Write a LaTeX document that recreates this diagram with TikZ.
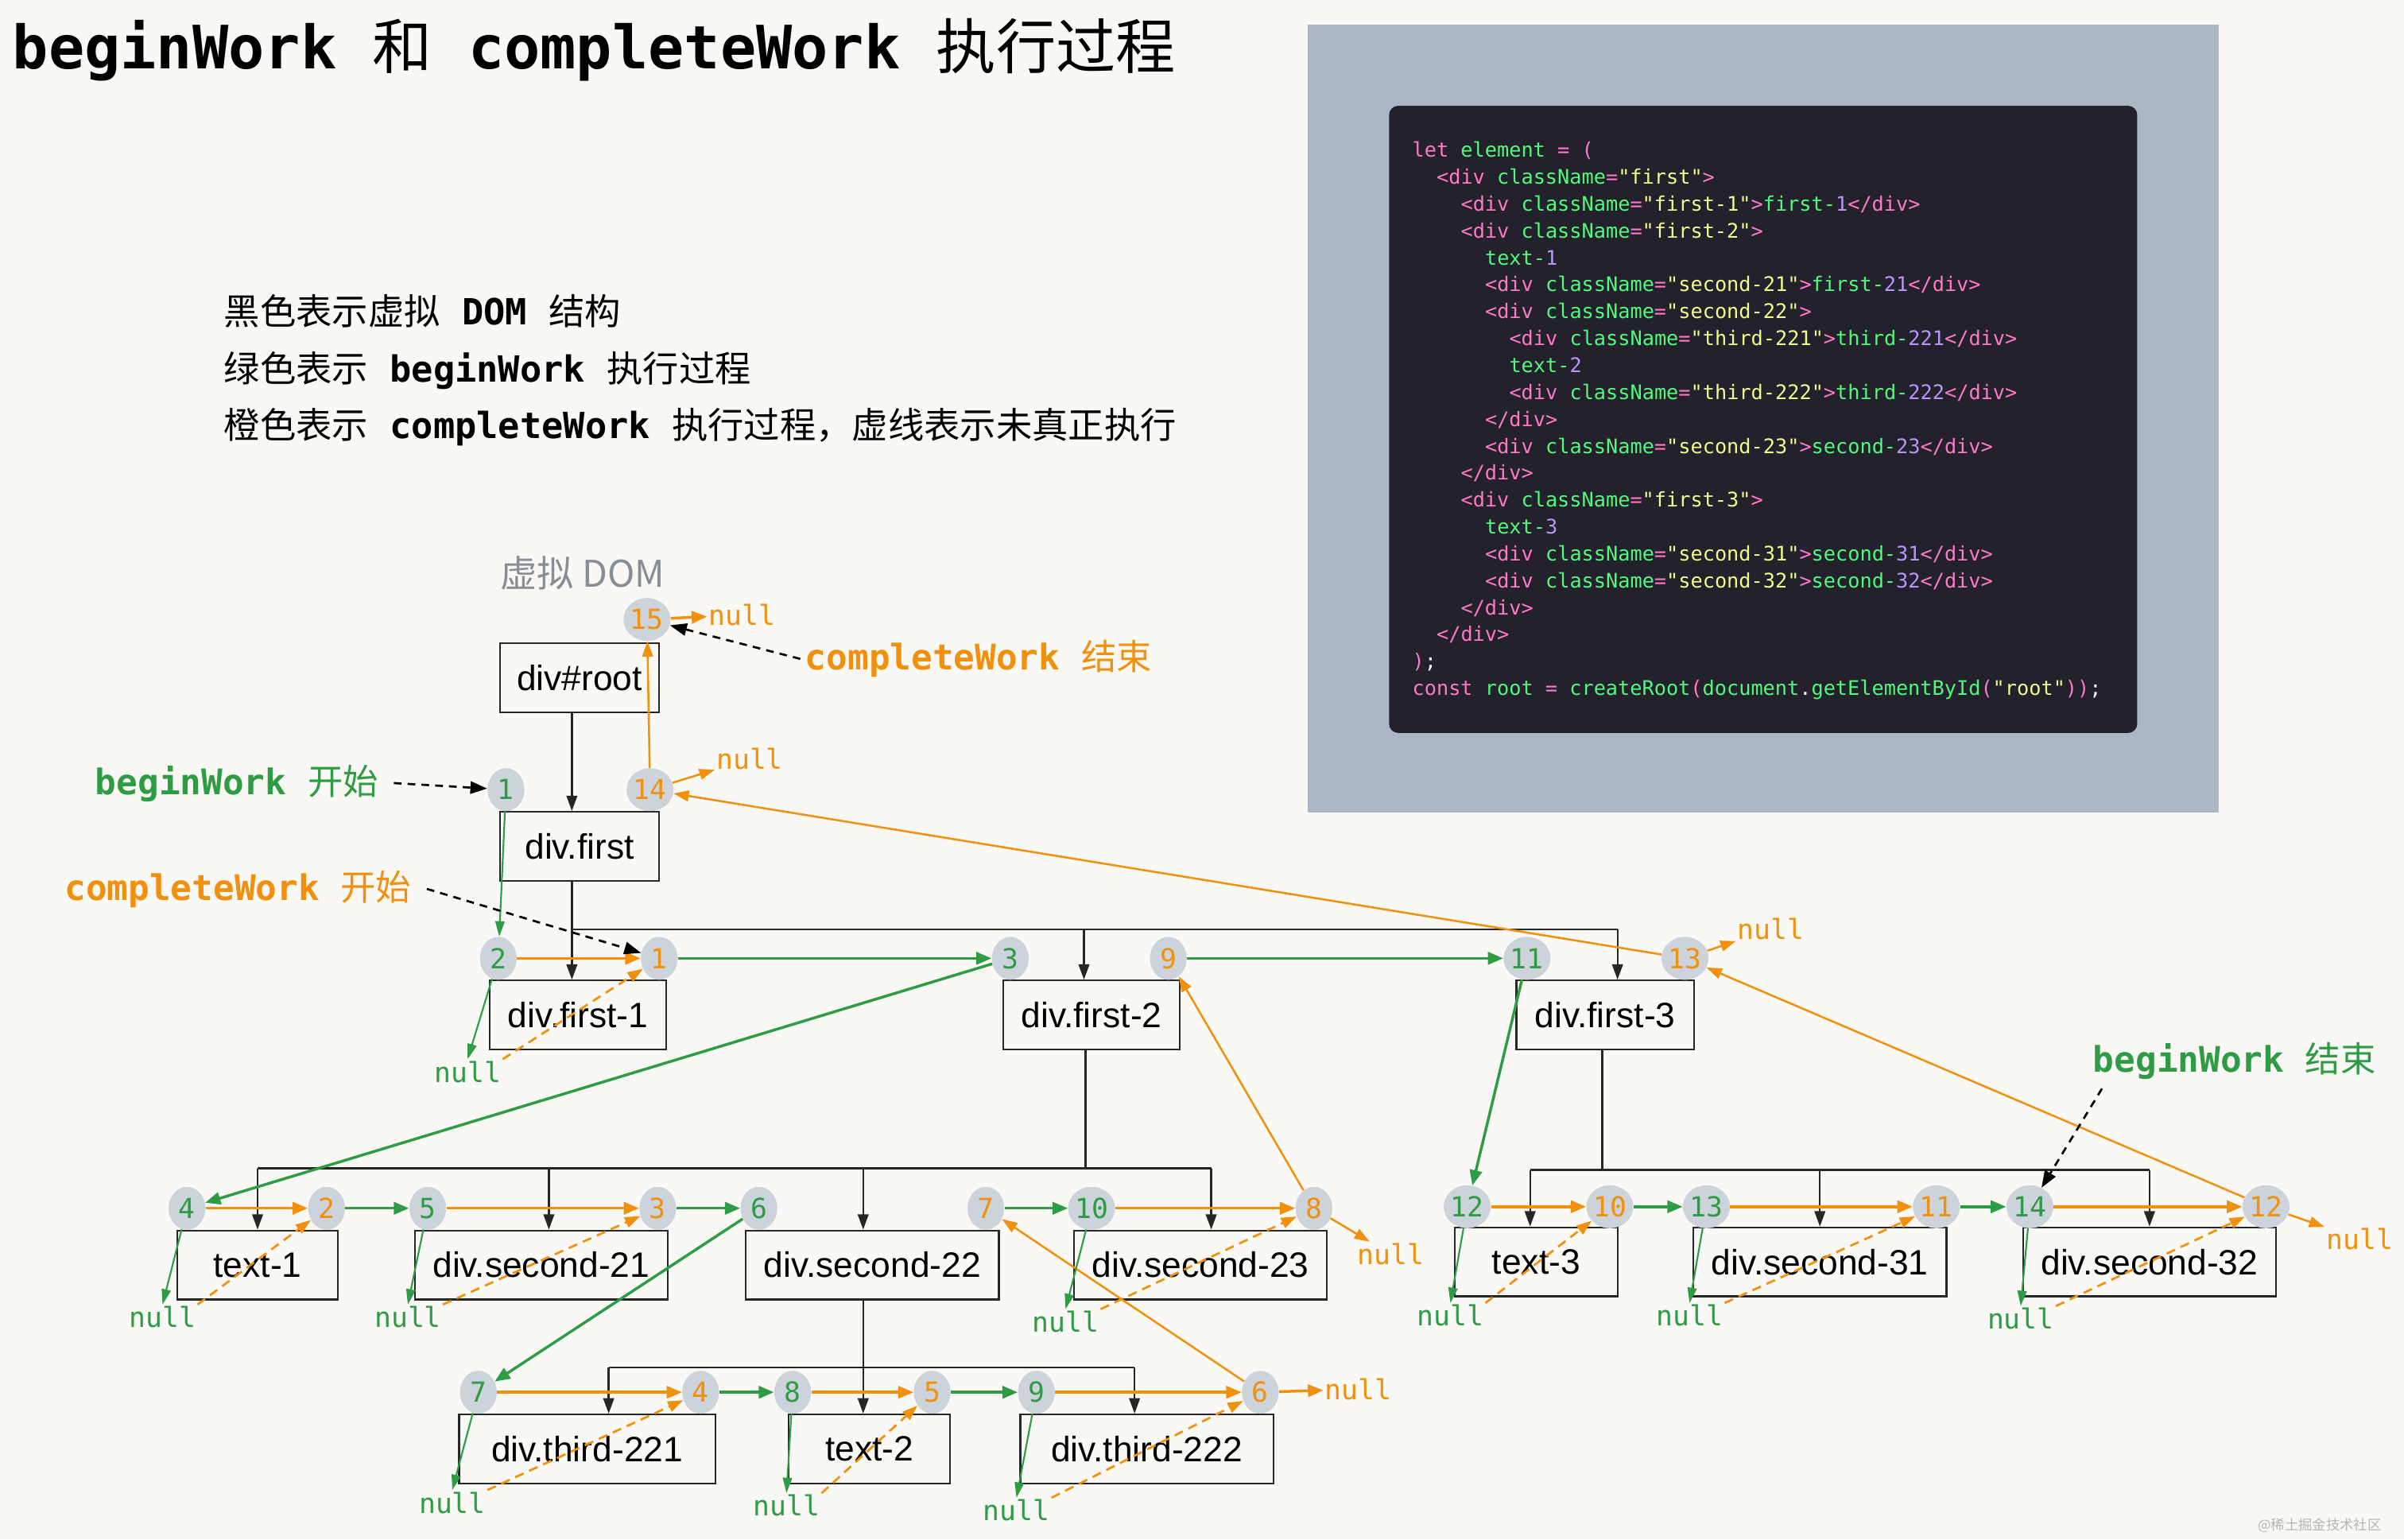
\documentclass[tikz,border=0pt]{standalone}
\usepackage{fontspec}
\setmainfont{Liberation Sans}
\newfontfamily\monofont{DejaVu Sans Mono}
\newfontfamily\cjkfont{Noto Sans CJK SC}
\usetikzlibrary{shapes,arrows.meta}
\definecolor{bgcol}{HTML}{FAF8F5}
\definecolor{ocol}{HTML}{F0900C}
\definecolor{gcol}{HTML}{2E9B45}
\definecolor{dotcol}{HTML}{CDD3DB}
\definecolor{panelcol}{HTML}{A9B7C4}
\definecolor{codebg}{HTML}{22212C}
\definecolor{domgrey}{HTML}{878D95}
\definecolor{markgrey}{HTML}{B5B5B5}
\definecolor{ckcol}{HTML}{FF79C6}
\definecolor{cgcol}{HTML}{50FA7B}
\definecolor{cycol}{HTML}{F1FA8C}
\definecolor{cvcol}{HTML}{BD93F9}
\definecolor{cwcol}{HTML}{F8F8F2}
\newcommand\zh[1]{{\cjkfont #1}}
\newcommand\mono[1]{{\monofont\bfseries #1}}
\newcommand\codek[1]{\textcolor{ckcol}{#1}}
\newcommand\codeg[1]{\textcolor{cgcol}{#1}}
\newcommand\codey[1]{\textcolor{cycol}{#1}}
\newcommand\codev[1]{\textcolor{cvcol}{#1}}
\newcommand\codew[1]{\textcolor{cwcol}{#1}}
\newcommand\opendiv[1]{\codek{<div} \codeg{className}\codek{=}\codey{"#1"}\codek{>}}
\newcommand\closediv{\codek{</div>}}
\tikzstyle{code}=[anchor=base west,inner sep=0pt,font=\monofont\fontsize{13.1}{13.1}\selectfont]
\tikzstyle{dombox}=[draw=black!85,line width=1.2pt,minimum height=45pt,inner sep=0pt,font=\fontsize{23}{23}\selectfont]
\tikzstyle{stepdot}=[ellipse,fill=dotcol,minimum width=24pt,minimum height=28pt,inner sep=0pt,font=\monofont\fontsize{18}{18}\selectfont]
\tikzstyle{gstep}=[stepdot,text=gcol]
\tikzstyle{ostep}=[stepdot,text=ocol]
\tikzstyle{gnull}=[inner sep=1pt,text=gcol,font=\monofont\fontsize{18}{18}\selectfont]
\tikzstyle{onull}=[gnull,text=ocol]
\tikzstyle{anno}=[anchor=base west,inner sep=0pt,font=\fontsize{23}{23}\selectfont]
\tikzstyle{treeline}=[black!85,line width=1.2pt]
\tikzstyle{treearrow}=[treeline,-{Triangle[length=10pt,width=7pt]}]
\tikzstyle{oarrow}=[ocol,line width=1.8pt,-{Triangle[length=10pt,width=8pt]}]
\tikzstyle{garrow}=[gcol,line width=1.8pt,-{Triangle[length=10pt,width=8pt]}]
\tikzstyle{othin}=[ocol,line width=1.3pt,-{Triangle[length=10pt,width=7pt]}]
\tikzstyle{gthin}=[gcol,line width=1.1pt,-{Triangle[length=10pt,width=6pt]}]
\tikzstyle{odash}=[ocol,line width=1.4pt,dash pattern=on 6pt off 4pt,-{Triangle[length=10pt,width=7pt]}]
\tikzstyle{pointer}=[black,line width=1.4pt,dash pattern=on 5pt off 4pt,-{Triangle[length=11pt,width=8pt]}]

\begin{document}
\begin{tikzpicture}[x=1pt,y=-1pt]
\useasboundingbox (0,0) rectangle (1568,1004);
\fill[bgcol] (0,0) rectangle (1568,1004);

\node[anchor=base west,inner sep=0pt,font=\fontsize{39}{39}\selectfont] (title) at (8,45) {\mono{beginWork }\zh{和}\mono{ completeWork }\zh{执行过程}};
\node[anchor=base west,inner sep=0pt,font=\fontsize{23.5}{23.5}\selectfont] (leg1) at (146,212) {\zh{黑色表示虚拟}\mono{ DOM }\zh{结构}};
\node[anchor=base west,inner sep=0pt,font=\fontsize{23.5}{23.5}\selectfont] (leg2) at (146,249) {\zh{绿色表示}\mono{ beginWork }\zh{执行过程}};
\node[anchor=base west,inner sep=0pt,font=\fontsize{23.5}{23.5}\selectfont] (leg3) at (146,286) {\zh{橙色表示}\mono{ completeWork }\zh{执行过程，虚线表示未真正执行}};

\fill[panelcol] (853,16) rectangle (1447,530);
\fill[codebg,rounded corners=6pt] (906,69) rectangle (1394,478);
\node[code] (cl1) at (921,102.5) {\codek{let} \codeg{element} \codek{=} \codek{(}};
\node[code] (cl2) at (936.8,120.05) {\opendiv{first}};
\node[code] (cl3) at (952.6,137.6) {\opendiv{first-1}\codeg{first-}\codev{1}\closediv};
\node[code] (cl4) at (952.6,155.15) {\opendiv{first-2}};
\node[code] (cl5) at (968.4,172.7) {\codeg{text-}\codev{1}};
\node[code] (cl6) at (968.4,190.25) {\opendiv{second-21}\codeg{first-}\codev{21}\closediv};
\node[code] (cl7) at (968.4,207.8) {\opendiv{second-22}};
\node[code] (cl8) at (984.2,225.35) {\opendiv{third-221}\codeg{third-}\codev{221}\closediv};
\node[code] (cl9) at (984.2,242.9) {\codeg{text-}\codev{2}};
\node[code] (cl10) at (984.2,260.45) {\opendiv{third-222}\codeg{third-}\codev{222}\closediv};
\node[code] (cl11) at (968.4,278) {\closediv};
\node[code] (cl12) at (968.4,295.55) {\opendiv{second-23}\codeg{second-}\codev{23}\closediv};
\node[code] (cl13) at (952.6,313.1) {\closediv};
\node[code] (cl14) at (952.6,330.65) {\opendiv{first-3}};
\node[code] (cl15) at (968.4,348.2) {\codeg{text-}\codev{3}};
\node[code] (cl16) at (968.4,365.75) {\opendiv{second-31}\codeg{second-}\codev{31}\closediv};
\node[code] (cl17) at (968.4,383.3) {\opendiv{second-32}\codeg{second-}\codev{32}\closediv};
\node[code] (cl18) at (952.6,400.85) {\closediv};
\node[code] (cl19) at (936.8,418.4) {\closediv};
\node[code] (cl20) at (921,435.95) {\codek{)}\codew{;}};
\node[code] (cl21) at (921,453.5) {\codek{const} \codeg{root} \codek{=} \codeg{createRoot}\codek{(}\codeg{document}\codew{.}\codeg{getElementById}\codek{(}\codey{"root"}\codek{))}\codew{;}};

\node[text=domgrey,font=\fontsize{24}{24}\selectfont] (vdom) at (380,374) {\zh{虚拟 DOM}};
\node[dombox,minimum width=104pt] (root) at (378,442) {div\#root};
\node[dombox,minimum width=104pt] (first) at (378,552) {div.first};
\node[dombox,minimum width=115pt] (first1) at (377,662) {div.first-1};
\node[dombox,minimum width=115pt] (first2) at (712,662) {div.first-2};
\node[dombox,minimum width=116pt] (first3) at (1047,662) {div.first-3};
\node[dombox,minimum width=105pt] (text1) at (168,825) {text-1};
\node[dombox,minimum width=165pt] (sec21) at (353,825) {div.second-21};
\node[dombox,minimum width=165pt] (sec22) at (569,825) {div.second-22};
\node[dombox,minimum width=165pt] (sec23) at (783,825) {div.second-23};
\node[dombox,minimum width=167pt] (thd221) at (383,945) {div.third-221};
\node[dombox,minimum width=105pt] (text2) at (567,945) {text-2};
\node[dombox,minimum width=165pt] (thd222) at (748,945) {div.third-222};
\node[dombox,minimum width=106pt] (text3) at (1002,823) {text-3};
\node[dombox,minimum width=165pt] (sec31) at (1187,823) {div.second-31};
\node[dombox,minimum width=165pt] (sec32) at (1402,823) {div.second-32};

\coordinate (busA) at (0,606); \coordinate (busB) at (0,762); \coordinate (busC) at (0,892); \coordinate (busD) at (0,763);
\draw[treearrow] ([xshift=-5pt]root.south) -- ([xshift=-5pt]first.north);
\draw[treeline] ([xshift=-5pt]first.south) -- ([xshift=-5pt]first.south |- busA);
\draw[treeline] ([xshift=-4pt]first1.north |- busA) -- ([xshift=8pt]first3.north |- busA);
\draw[treearrow] ([xshift=-4pt]first1.north |- busA) -- ([xshift=-4pt]first1.north);
\draw[treearrow] ([xshift=-5pt]first2.north |- busA) -- ([xshift=-5pt]first2.north);
\draw[treearrow] ([xshift=8pt]first3.north |- busA) -- ([xshift=8pt]first3.north);
\draw[treeline] ([xshift=-4pt]first2.south) -- ([xshift=-4pt]first2.south |- busB);
\draw[treeline] (text1.north |- busB) -- ([xshift=7pt]sec23.north |- busB);
\draw[treearrow] (text1.north |- busB) -- (text1.north);
\draw[treearrow] ([xshift=5pt]sec21.north |- busB) -- ([xshift=5pt]sec21.north);
\draw[treearrow] ([xshift=-6pt]sec22.north |- busB) -- ([xshift=-6pt]sec22.north);
\draw[treearrow] ([xshift=7pt]sec23.north |- busB) -- ([xshift=7pt]sec23.north);
\draw[treeline] ([xshift=-6pt]sec22.south) -- ([xshift=-6pt]sec22.south |- busC);
\draw[treeline] ([xshift=14pt]thd221.north |- busC) -- ([xshift=-8pt]thd222.north |- busC);
\draw[treearrow] ([xshift=14pt]thd221.north |- busC) -- ([xshift=14pt]thd221.north);
\draw[treearrow] ([xshift=-4pt]text2.north |- busC) -- ([xshift=-4pt]text2.north);
\draw[treearrow] ([xshift=-8pt]thd222.north |- busC) -- ([xshift=-8pt]thd222.north);
\draw[treeline] ([xshift=-2pt]first3.south) -- ([xshift=-2pt]first3.south |- busD);
\draw[treeline] ([xshift=-4pt]text3.north |- busD) -- (sec32.north |- busD);
\draw[treearrow] ([xshift=-4pt]text3.north |- busD) -- ([xshift=-4pt]text3.north);
\draw[treearrow] (sec31.north |- busD) -- (sec31.north);
\draw[treearrow] (sec32.north |- busD) -- (sec32.north);

\node[ostep] (o15) at (422,404) {15};
\node[gstep] (g1) at (330,515) {1}; \node[ostep] (o14) at (424,515) {14};
\node[gstep] (g2) at (325,625) {2}; \node[ostep] (o1) at (430,625) {1}; \node[gstep] (g3) at (659,625) {3};
\node[ostep] (o9) at (762,625) {9}; \node[gstep] (g11) at (996,625) {11}; \node[ostep] (o13) at (1099,625) {13};
\node[gstep] (g4) at (122,788) {4}; \node[ostep] (o2) at (213,788) {2}; \node[gstep] (g5) at (279,788) {5};
\node[ostep] (o3) at (429,788) {3}; \node[gstep] (g6) at (495,788) {6}; \node[ostep] (o7) at (643,788) {7};
\node[gstep] (g10) at (712,788) {10}; \node[ostep] (o8) at (857,788) {8};
\node[gstep] (g7) at (312,908) {7}; \node[ostep] (o4) at (457,908) {4}; \node[gstep] (g8) at (517,908) {8};
\node[ostep] (o5) at (608,908) {5}; \node[gstep] (g9) at (676,908) {9}; \node[ostep] (o6) at (822,908) {6};
\node[gstep] (g12) at (957,787) {12}; \node[ostep] (o10) at (1050,787) {10}; \node[gstep] (g13) at (1113,787) {13};
\node[ostep] (o11) at (1263,787) {11}; \node[gstep] (g14) at (1324,787) {14}; \node[ostep] (o12) at (1478,787) {12};

\node[onull] (no15) at (484,401) {null};
\node[onull] (no14) at (489,495) {null};
\node[onull] (no13) at (1155,606) {null};
\node[onull] (no8) at (907,818) {null};
\node[onull] (no6) at (886,906) {null};
\node[onull] (no12) at (1539,808) {null};
\node[gnull] (ng2) at (305,699) {null};
\node[gnull] (ng4) at (106,859) {null};
\node[gnull] (ng5) at (266,859) {null};
\node[gnull] (ng10) at (695,862) {null};
\node[gnull] (ng7) at (295,980) {null};
\node[gnull] (ng8) at (513,982) {null};
\node[gnull] (ng9) at (663,985) {null};
\node[gnull] (ng12) at (946,858) {null};
\node[gnull] (ng13) at (1102,858) {null};
\node[gnull] (ng14) at (1318,860) {null};

\draw[gthin] (g1) -- (g2);
\draw[oarrow] (g2) -- (o1); \draw[garrow] (o1) -- (g3); \draw[garrow] (g3) -- (g4);
\draw[oarrow] (g4) -- (o2); \draw[garrow] (o2) -- (g5); \draw[oarrow] (g5) -- (o3); \draw[garrow] (o3) -- (g6);
\draw[garrow] (g6) -- (g7);
\draw[oarrow] (g7) -- (o4); \draw[garrow] (o4) -- (g8); \draw[oarrow] (g8) -- (o5); \draw[garrow] (o5) -- (g9); \draw[oarrow] (g9) -- (o6);
\draw[oarrow] (o6) -- (no6); \draw[othin] (o6) -- (o7);
\draw[garrow] (o7) -- (g10); \draw[oarrow] (g10) -- (o8);
\draw[othin] (o8) -- (no8); \draw[othin] (o8) -- (o9);
\draw[garrow] (o9) -- (g11); \draw[garrow] (g11) -- (g12);
\draw[oarrow] (g12) -- (o10); \draw[garrow] (o10) -- (g13); \draw[oarrow] (g13) -- (o11); \draw[garrow] (o11) -- (g14); \draw[oarrow] (g14) -- (o12);
\draw[othin] (o12) -- (no12); \draw[othin] (o12) -- (o13);
\draw[othin] (o13) -- (no13); \draw[othin] (o13) -- (o14);
\draw[othin] (o14) -- (no14); \draw[othin] (o14) -- (o15);
\draw[oarrow] (o15) -- (no15);

\draw[gthin] (g2) -- (ng2.north); \draw[odash] (ng2.north east) -- (o1);
\draw[gthin] (g4) -- (ng4.north); \draw[odash] (ng4.north east) -- (o2);
\draw[gthin] (g5) -- (ng5.north); \draw[odash] (ng5.north east) -- (o3);
\draw[gthin] (g10) -- (ng10.north); \draw[odash] (ng10.north east) -- (o8);
\draw[gthin] (g7) -- (ng7.north); \draw[odash] (ng7.north east) -- (o4);
\draw[gthin] (g8) -- (ng8.north); \draw[odash] (ng8.north east) -- (o5);
\draw[gthin] (g9) -- (ng9.north); \draw[odash] (ng9.north east) -- (o6);
\draw[gthin] (g12) -- (ng12.north); \draw[odash] (ng12.north east) -- (o10);
\draw[gthin] (g13) -- (ng13.north); \draw[odash] (ng13.north east) -- (o11);
\draw[gthin] (g14) -- (ng14.north); \draw[odash] (ng14.north east) -- (o12);

\node[anno,text=gcol] (bstart) at (62,518) {\mono{beginWork }\zh{开始}};
\node[anno,text=ocol] (cstart) at (42,587) {\mono{completeWork }\zh{开始}};
\node[anno,text=ocol] (cend) at (525,437) {\mono{completeWork }\zh{结束}};
\node[anno,text=gcol] (bend) at (1365,699) {\mono{beginWork }\zh{结束}};
\draw[pointer] ([xshift=10pt]bstart.east) -- (g1);
\draw[pointer] ([xshift=10pt]cstart.east) -- (o1);
\draw[pointer] ([xshift=-3pt]cend.west) -- (o15);
\draw[pointer] ([xshift=6pt,yshift=-6pt]bend.south west) -- (g14);

\node[text=markgrey,font=\fontsize{9}{9}\selectfont] (mark) at (1513,995) {\zh{@稀土掘金技术社区}};
\end{tikzpicture}
\end{document}
